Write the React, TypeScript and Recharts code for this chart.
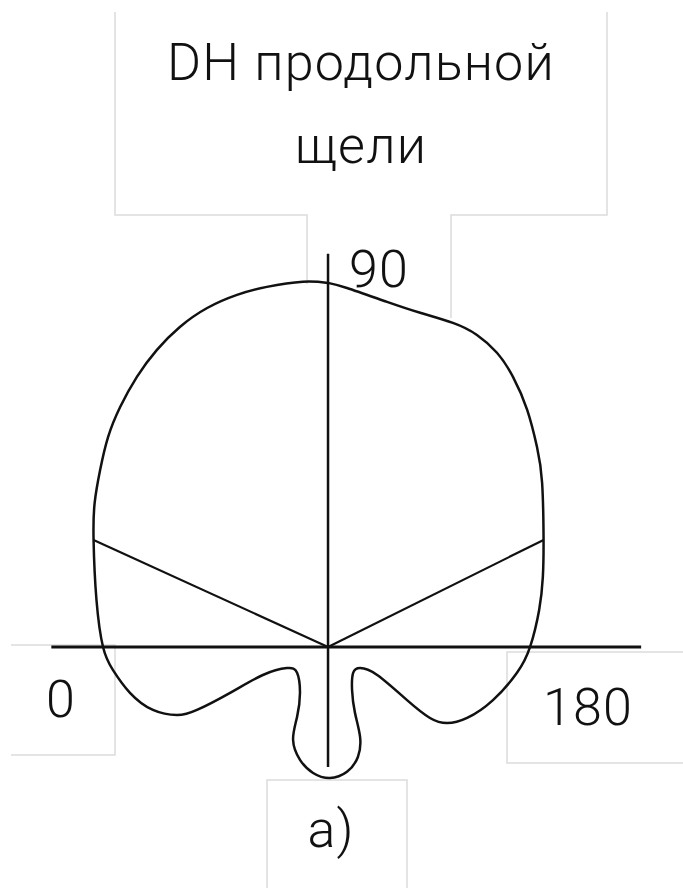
import React from 'react';
import { LineChart, Line, XAxis, YAxis } from 'recharts';

// Pattern outline, normalised so the main lobe (90°) has radius 1.
// Traced clockwise starting at 90°, through 180°, the back lobes and 0°.
const patternX = [
  0, 0.052, 0.162, 0.253, 0.343, 0.409, 0.464, 0.508, 0.547, 0.574, 0.588, 0.592, 0.59, 0.58, 0.555,
  0.519, 0.453, 0.382, 0.327, 0.28, 0.217, 0.135, 0.088, 0.069, 0.066, 0.074, 0.088, 0.082, 0.052,
  0.005, -0.041, -0.077, -0.096, -0.085, -0.077, -0.085, -0.113, -0.179, -0.269, -0.36, -0.415,
  -0.481, -0.544, -0.591, -0.618, -0.636, -0.644, -0.641, -0.626, -0.604, -0.571, -0.525,
  -0.47, -0.407, -0.332, -0.25, -0.168, -0.069, 0,
];
const patternY = [
  1.0, 0.986, 0.948, 0.918, 0.89, 0.857, 0.808, 0.742, 0.651, 0.549, 0.451, 0.294, 0.192, 0.102, 0,
  -0.071, -0.146, -0.195, -0.209, -0.195, -0.146, -0.077, -0.058, -0.071, -0.118, -0.181, -0.247,
  -0.302, -0.343, -0.36, -0.346, -0.31, -0.255, -0.192, -0.126, -0.071, -0.058, -0.077, -0.126,
  -0.173, -0.187, -0.173, -0.126, -0.063, 0, 0.129, 0.294, 0.396, 0.486, 0.577, 0.659, 0.742,
  0.816, 0.879, 0.931, 0.967, 0.989, 1.003, 1.0,
];

// axes of the polar plot and the two rays to the half-power points
const axisH = [{ x: -0.76, y: 0 }, { x: 0.86, y: 0 }];
const axisV = [{ x: 0, y: -0.33 }, { x: 0, y: 1.08 }];
const rayLeft = [{ x: 0, y: 0 }, { x: -0.644, y: 0.294 }];
const rayRight = [{ x: 0, y: 0 }, { x: 0.592, y: 0.294 }];

const titleLines = ['DH продольной', 'щели'];
const angleLabels = ['0', '90', '180'];
const caption = 'а)';

const pattern = patternX.map((x, i) => ({ x, y: patternY[i] }));

const W = 683;
const H = 888;
const font = {
  fontFamily: 'Roboto, sans-serif',
  fontWeight: 300,
  fontSize: 52,
  letterSpacing: 1.2,
  fill: '#111',
};
const boxStroke = { fill: 'none', stroke: '#dcdcdc', strokeWidth: 1.5 };

const seg = (data: { x: number; y: number }[], width: number, type: 'linear' | 'natural' = 'linear') => (
  <Line
    data={data}
    dataKey="y"
    type={type}
    stroke="#111"
    strokeWidth={width}
    dot={false}
    activeDot={false}
    isAnimationActive={false}
  />
);

const App = () => {
  return (
    <div style={{ position: 'absolute', left: 0, top: 0, width: W, height: H, background: '#fff' }}>
      <LineChart width={W} height={H} margin={{ top: 0, right: 0, bottom: 0, left: 0 }}>
        <XAxis type="number" dataKey="x" domain={[-0.901, 0.975]} hide allowDataOverflow />
        <YAxis type="number" dataKey="y" domain={[-0.662, 1.777]} hide allowDataOverflow />

        <path d="M115,12 V215 H307 V284 M451,318 V215 H607 V12" {...boxStroke} />
        <path d="M11,645 H115 V755 H11" {...boxStroke} />
        <path d="M683,652 H507 V763 H683" {...boxStroke} />
        <path d="M267,888 V780 H407 V888" {...boxStroke} />

        {seg(axisH, 3)}
        {seg(axisV, 2.5)}
        {seg(rayLeft, 2.2)}
        {seg(rayRight, 2.2)}
        {seg(pattern, 2.5, 'natural')}

        <text x={361} y={80} textAnchor="middle" {...font}>{titleLines[0]}</text>
        <text x={361} y={163} textAnchor="middle" {...font}>{titleLines[1]}</text>
        <text x={61} y={717} textAnchor="middle" {...font}>{angleLabels[0]}</text>
        <text x={349} y={287} textAnchor="start" {...font}>{angleLabels[1]}</text>
        <text x={588} y={725} textAnchor="middle" {...font}>{angleLabels[2]}</text>
        <text x={331} y={847} textAnchor="middle" {...font}>{caption}</text>
      </LineChart>
    </div>
  );
};

export default App;
